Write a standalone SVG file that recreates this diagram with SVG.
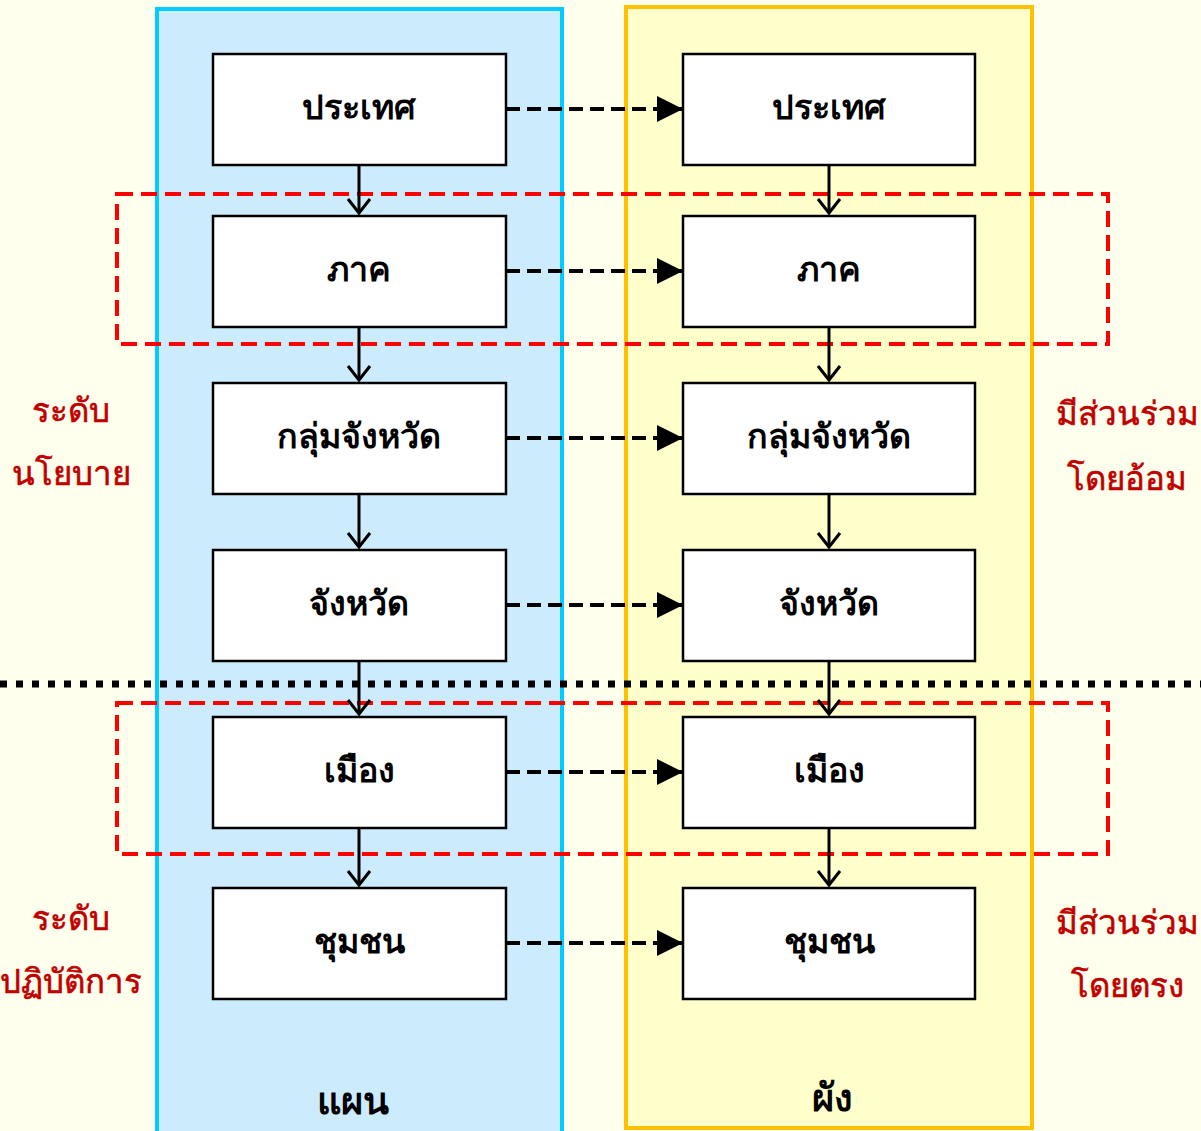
<svg xmlns="http://www.w3.org/2000/svg" width="1201" height="1131" viewBox="0 0 1201 1131">
<style>
.box{fill:#fff;stroke:#000;stroke-width:2.5}
.t{font-family:"Noto Sans","DejaVu Sans",sans-serif;font-size:34px;font-weight:bold;text-anchor:middle;fill:#000}
.lbl{font-family:"Noto Sans","DejaVu Sans",sans-serif;font-size:33px;text-anchor:middle;fill:#C00000;stroke:#C00000;stroke-width:0.6}
.dash{stroke:#000;stroke-width:4;stroke-dasharray:14 7;fill:none}
.v{stroke:#000;stroke-width:3;fill:none}
.red{fill:none;stroke:#FF0000;stroke-width:4;stroke-dasharray:16 8}
</style>
<defs>
<marker id="tri" markerWidth="26" markerHeight="26" refX="26" refY="13" orient="auto" markerUnits="userSpaceOnUse">
<path d="M0,0 L26,13 L0,26 Z" fill="#000"/>
</marker>
</defs>
<rect width="1201" height="1131" fill="#FFFFEE"/>
<g id="panel-plan">
<rect x="157" y="9" width="405" height="1124" fill="#CCEBFC" stroke="#00CCFF" stroke-width="4"/>
<text class="t" x="353" y="1114" style="font-size:38px">แผน</text>
</g>
<g id="panel-layout">
<rect x="626" y="7" width="406" height="1121" fill="#FFFFCC" stroke="#FFC000" stroke-width="4"/>
<text class="t" x="832" y="1111" style="font-size:38px">ผัง</text>
</g>
<g id="levels">
<rect x="117" y="194" width="991" height="150" class="red"/>
<rect x="117" y="703" width="991" height="151" class="red"/>
<line x1="0" y1="684" x2="1201" y2="684" stroke="#000" stroke-width="7" stroke-dasharray="7 9"/>
</g>
<g id="connectors">
<g class="dash" marker-end="url(#tri)">
<line x1="506" y1="109" x2="683" y2="109"/>
<line x1="506" y1="271" x2="683" y2="271"/>
<line x1="506" y1="438" x2="683" y2="438"/>
<line x1="506" y1="605" x2="683" y2="605"/>
<line x1="506" y1="772" x2="683" y2="772"/>
<line x1="506" y1="943" x2="683" y2="943"/>
</g>
<g class="v">
<line x1="359" y1="165" x2="359" y2="213"/><polyline points="348,199 359,213 370,199"/>
<line x1="359" y1="327" x2="359" y2="380"/><polyline points="348,366 359,380 370,366"/>
<line x1="359" y1="494" x2="359" y2="547"/><polyline points="348,533 359,547 370,533"/>
<line x1="359" y1="661" x2="359" y2="714"/><polyline points="348,700 359,714 370,700"/>
<line x1="359" y1="828" x2="359" y2="885"/><polyline points="348,871 359,885 370,871"/>
<line x1="829" y1="165" x2="829" y2="213"/><polyline points="818,199 829,213 840,199"/>
<line x1="829" y1="327" x2="829" y2="380"/><polyline points="818,366 829,380 840,366"/>
<line x1="829" y1="494" x2="829" y2="547"/><polyline points="818,533 829,547 840,533"/>
<line x1="829" y1="661" x2="829" y2="714"/><polyline points="818,700 829,714 840,700"/>
<line x1="829" y1="828" x2="829" y2="885"/><polyline points="818,871 829,885 840,871"/>
</g>
</g>
<g id="L1"><rect class="box" x="213" y="54" width="293" height="111"/><text class="t" x="359" y="119">ประเทศ</text></g>
<g id="L2"><rect class="box" x="213" y="216" width="293" height="111"/><text class="t" x="359" y="281">ภาค</text></g>
<g id="L3"><rect class="box" x="213" y="383" width="293" height="111"/><text class="t" x="359" y="448">กลุ่มจังหวัด</text></g>
<g id="L4"><rect class="box" x="213" y="550" width="293" height="111"/><text class="t" x="359" y="615">จังหวัด</text></g>
<g id="L5"><rect class="box" x="213" y="717" width="293" height="111"/><text class="t" x="359" y="782">เมือง</text></g>
<g id="L6"><rect class="box" x="213" y="888" width="293" height="111"/><text class="t" x="359" y="953">ชุมชน</text></g>
<g id="R1"><rect class="box" x="683" y="54" width="292" height="111"/><text class="t" x="829" y="119">ประเทศ</text></g>
<g id="R2"><rect class="box" x="683" y="216" width="292" height="111"/><text class="t" x="829" y="281">ภาค</text></g>
<g id="R3"><rect class="box" x="683" y="383" width="292" height="111"/><text class="t" x="829" y="448">กลุ่มจังหวัด</text></g>
<g id="R4"><rect class="box" x="683" y="550" width="292" height="111"/><text class="t" x="829" y="615">จังหวัด</text></g>
<g id="R5"><rect class="box" x="683" y="717" width="292" height="111"/><text class="t" x="829" y="782">เมือง</text></g>
<g id="R6"><rect class="box" x="683" y="888" width="292" height="111"/><text class="t" x="829" y="953">ชุมชน</text></g>
<g id="labels">
<text class="lbl" x="71" y="422">ระดับ</text>
<text class="lbl" x="71" y="485">นโยบาย</text>
<text class="lbl" x="71" y="930">ระดับ</text>
<text class="lbl" x="71" y="993">ปฏิบัติการ</text>
<text class="lbl" x="1127" y="425">มีส่วนร่วม</text>
<text class="lbl" x="1127" y="490">โดยอ้อม</text>
<text class="lbl" x="1127" y="934">มีส่วนร่วม</text>
<text class="lbl" x="1127" y="997">โดยตรง</text>
</g>
</svg>
